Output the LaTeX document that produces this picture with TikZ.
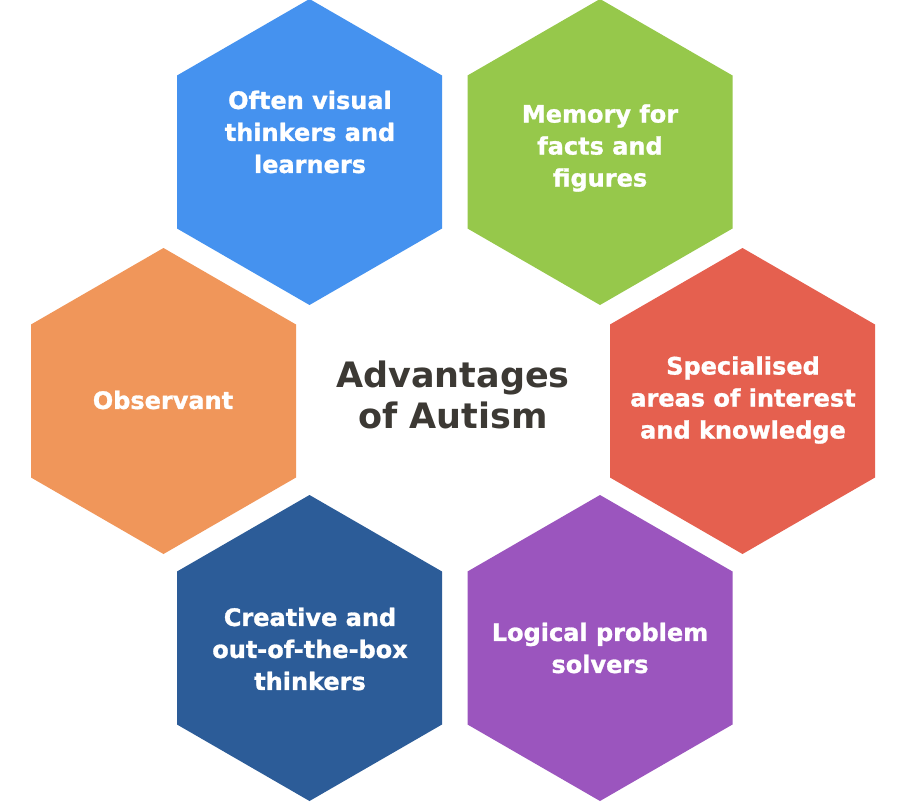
\documentclass[tikz,border=0pt]{standalone}
\usepackage{fontspec}
\setmainfont{DejaVu Sans}
\newfontfamily\heavyfont[BoldFeatures={FakeBold=1.2}]{DejaVu Sans}
\definecolor{hblue}{HTML}{4592EF}
\definecolor{hgreen}{HTML}{96C84B}
\definecolor{horange}{HTML}{F0965A}
\definecolor{hred}{HTML}{E5604F}
\definecolor{hdark}{HTML}{2C5C98}
\definecolor{hpurple}{HTML}{9B55BE}
\definecolor{titlecol}{HTML}{3C3934}
\tikzset{
  hexagon/.pic={\fill[pic actions] (0,-153) -- (132.5,-76.5) -- (132.5,76.5) -- (0,153) -- (-132.5,76.5) -- (-132.5,-76.5) -- cycle;},
  hextext/.style={text=white, align=center, font=\heavyfont\bfseries\fontsize{24}{32}\selectfont, inner sep=0pt},
  titletext/.style={text=titlecol, align=center, font=\bfseries\fontsize{35}{41}\selectfont, inner sep=0pt}
}
\begin{document}
\begin{tikzpicture}[x=1pt,y=-1pt]
\useasboundingbox (0,0) rectangle (901,805);
\fill[white] (0,0) rectangle (901,805);
\pic[fill=hblue] at (309.5,152) {hexagon};
\pic[fill=hgreen] at (600,152) {hexagon};
\pic[fill=horange] at (163.5,401) {hexagon};
\pic[fill=hred] at (742.5,401) {hexagon};
\pic[fill=hdark] at (309.5,648) {hexagon};
\pic[fill=hpurple] at (600,648) {hexagon};
\node[hextext] (t1) at (310,132) {Often visual\\thinkers and\\learners};
\node[hextext] (t2) at (600,148) {Memory for\\facts and\\figures};
\node[hextext] (t3) at (163,400) {Observant};
\node[hextext] (t4) at (743,400) {Specialised\\areas of interest\\and knowledge};
\node[hextext] (t5) at (310,649) {Creative and\\out-of-the-box\\thinkers};
\node[hextext] (t6) at (600,648) {Logical problem\\solvers};
\node[titletext] (title) at (453,395) {Advantages\\of Autism};
\end{tikzpicture}
\end{document}
